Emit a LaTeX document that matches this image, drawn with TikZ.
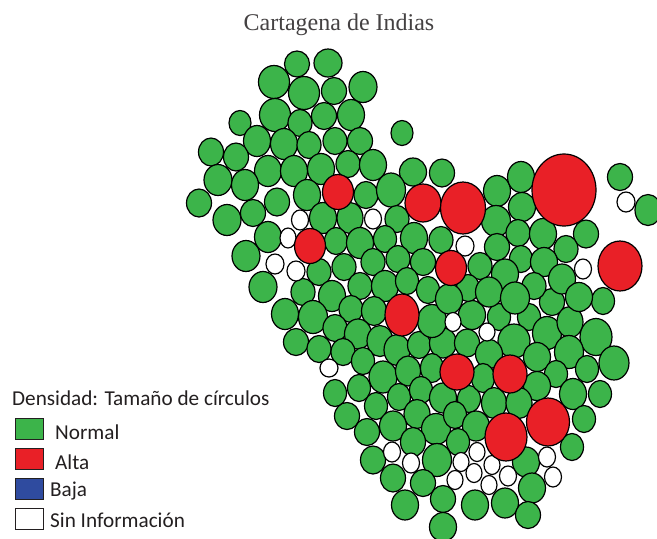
\documentclass[tikz,border=0pt]{standalone}
\usepackage{fontspec}
\setmainfont{Liberation Serif}
\newfontfamily\legendfont{Carlito}
\definecolor{cgreen}{HTML}{3CB44A}
\definecolor{cred}{HTML}{E92027}
\definecolor{cblue}{HTML}{2F4B9F}
\definecolor{ctext}{HTML}{231F20}
\tikzset{
  blob/.style={draw=black,line width=1.2pt},
  swatch/.style={draw=ctext,line width=1pt,minimum width=28pt,minimum height=21.5pt,inner sep=0pt,anchor=north west},
  legendtext/.style={font=\legendfont\fontsize{21.2}{23}\selectfont,text=ctext,anchor=west,inner sep=0pt},
}
\begin{document}
\begin{tikzpicture}[x=1pt,y=-1pt]
\useasboundingbox (0,0) rectangle (657,539);
\fill[white] (0,0) rectangle (657,539);
\node[font=\fontsize{24}{26}\selectfont,text=ctext!85,inner sep=0pt] (title) at (339,25) {Cartagena de Indias};
% green circles
\foreach \x/\y/\a/\b in {
297/64/12/12.5,328/63/13.5/13.5,274/82/15/16,304/93/15/16,334/91/12/13,363/87/13.5/15,
275/115/15/16,300/123/11.5/13,324/116/12/13,351/115/13/15,240/123/10.5/12,402/133/10.5/12,
257/141/13/15,284/144/13/15,309/145/11.5/13,335/141/11.5/13,360/141/12/13,211/152/12/13.5,
236/157/12/13.5,268/171/13/15,294/171/13/15,321/169/13/15,348/164/11.5/13,373/165/13/15,
218/180/13.5/15,245/185/13/15,413/172/13/13.5,307/195/13/15,366/195/11.5/13,391/190/14/16.5,
199/203/12/13.5,277/202/12/13.5,227/220/13.5/15,253/213/12/13,323/218/13/15,350/218/12.5/15,
397/219/11.5/13,268/237/13/15,336/241/11/13,360/243/13/15,385/239/11/13,414/238/13/15,
246/256/13.5/15,319/272/11.5/13,344/267/11.5/13,373/262/11.5/13,398/259/11.5/13,423/262/12/13,
263/287/13.5/15,303/292/11.5/13,332/296/13/15,360/286/11.5/13,385/286/13/15,407/281/11/13,
428/290/11/13,285/314/13/15,313/317/14/16,351/309/11.5/13,374/311/12/14,335/328/11.5/13,
358/334/13/14.5,296/342/12/13,319/349/11.5/13,343/352/11.5/13,380/341/12.5/15,397/350/12.5/15,
419/345/11/13,363/361/11/13,443/343/13/14.5,467/343/12/13.5,383/377/13.5/15.5,408/371/12/14.5,
432/368/11/14,335/393/11/13,359/388/11/13,399/397/11/13,421/390/11/13,376/406/11/13,
443/398/13/14.5,469/399/11/13,347/416/12/13,417/414/12.5/14,393/426/13/14.5,367/432/12/13,
436/429/14/15,455/415/11/13,476/426/13/14.5,413/442/12/14,458/442/11/13,
432/321/14/16,472/315/13/14,499/317/11/13,529/317/11/13,552/302/12/13,547/333/14/16,
570/322/12.5/15,603/301/11/13,596/337/15.5/18,514/341/15.5/16.5,489/354/13/14,569/352/14/16,
537/357/13/14,614/363/14.5/16.5,587/369/11/13,556/374/11/13,483/378/11/14,537/386/13/14,
573/394/13/15,600/394/11/13,494/403/12/15,519/403/12.5/15,584/419/11/13,
442/173/12/13.5,497/191/13/15,521/177/13/15,620/177/12/13,648/210/12.5/15,522/207/13/14,
496/221/14/15,518/233/11.5/13,543/234/13/15,586/234/12/13.5,441/240/11.5/13,497/247/12/13,
566/249/11.5/13,521/259/11/13,544/262/13/14,480/266/11.5/13,505/274/13/14.5,562/279/13/14.5,
534/286/11.5/13,468/288/11/13,489/292/13/14.5,515/298/14/15.5,449/299/13/14.5,579/297/13/14,
572/447/11/13,373/460/12/13.5,437/460/14/16,526/462/13/14.5,393/478/12/13.5,423/483/12/13,
532/488/13/14.5,443/499/12/13,405/505/13/14.5,475/505/13/14.5,505/503/13/14.5,528/515/12/13,
443/527/13/14}
  \draw[blob,fill=cgreen] (\x,\y) ellipse [x radius=\a+0.5,y radius=\b+0.5];
% no-information circles
\foreach \x/\y/\a/\b in {
300/220/8.5/10,373/219/8.5/10,288/238/8/10,275/264/9/10,296/271/9/10,329/368/9/9,
465/246/9/10,626/202/9/10,583/269/8.5/10,453/322/8/9.5,487/332/8/9,
392/452/8.5/10,411/463/8.5/10,461/462/8/9.5,477/452/8/9.5,492/465/8/9.5,547/457/8.5/10,
474/473/8/9.5,508/476/8.5/10,553/477/8.5/10,455/480/8/9.5,489/485/8/9.5}
  \draw[blob,fill=white] (\x,\y) ellipse [x radius=\a,y radius=\b];
% high density circles
\foreach \x/\y/\a/\b in {
338/192/15.5/17.5,310/246/15.5/17.5,423/203/18/19,463/208/22.5/26,564/190/32/36,620/266/22/25,
451/268/15.5/17.5,402/315/17/21,457/372/17/18,510/374/17/19,548/422/21.5/24,506/437/21/24}
  \draw[blob,fill=cred] (\x,\y) ellipse [x radius=\a,y radius=\b];
% legend
\node[legendtext] (legtitle) at (12,398) {Densidad: Tamaño de círculos};
\node[swatch,fill=cgreen] (s1) at (15,417.5) {};
\node[swatch,fill=cred] (s2) at (15,447.5) {};
\node[swatch,fill=cblue] (s3) at (15,477.5) {};
\node[swatch,fill=white] (s4) at (15,507.5) {};
\node[legendtext] (l1) at (55,432) {Normal};
\node[legendtext] (l2) at (55,462) {Alta};
\node[legendtext] (l3) at (50,491) {Baja};
\node[legendtext] (l4) at (50,520) {Sin Información};
\end{tikzpicture}
\end{document}
